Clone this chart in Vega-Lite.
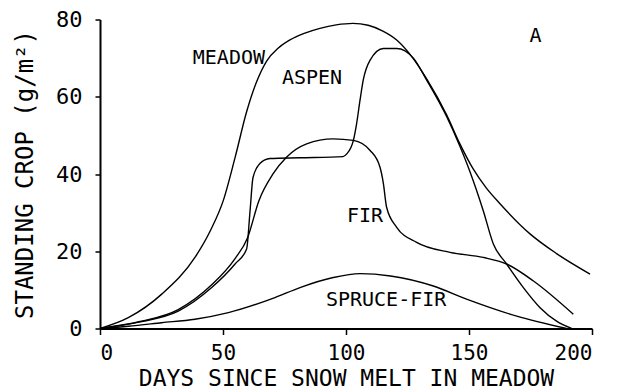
{
  "$schema": "https://vega.github.io/schema/vega-lite/v6.json",
  "width": 492,
  "height": 309,
  "autosize": "none",
  "padding": {"left": 100, "top": 19.5, "right": 34, "bottom": 63.5},
  "background": "white",
  "config": {
    "view": {"stroke": null},
    "font": "DejaVu Sans Mono",
    "axis": {
      "grid": false,
      "domainColor": "black",
      "domainWidth": 2,
      "tickColor": "black",
      "tickWidth": 1.5,
      "labelColor": "black",
      "titleColor": "black",
      "labelFont": "DejaVu Sans Mono",
      "titleFont": "DejaVu Sans Mono",
      "labelFontWeight": "normal",
      "titleFontWeight": "normal"
    }
  },
  "datasets": {
    "curves": [
      {"series": "MEADOW", "day": 0, "crop": 0},
      {"series": "MEADOW", "day": 11.5, "crop": 2.8},
      {"series": "MEADOW", "day": 25.1, "crop": 8.9},
      {"series": "MEADOW", "day": 38.6, "crop": 18.4},
      {"series": "MEADOW", "day": 45.0, "crop": 25.5},
      {"series": "MEADOW", "day": 50.1, "crop": 33.1},
      {"series": "MEADOW", "day": 55.0, "crop": 44.5},
      {"series": "MEADOW", "day": 59.6, "crop": 56.1},
      {"series": "MEADOW", "day": 63.5, "crop": 63.6},
      {"series": "MEADOW", "day": 67.8, "crop": 69.3},
      {"series": "MEADOW", "day": 72.5, "crop": 72.6},
      {"series": "MEADOW", "day": 77.2, "crop": 74.7},
      {"series": "MEADOW", "day": 83.0, "crop": 76.4},
      {"series": "MEADOW", "day": 89.4, "crop": 77.7},
      {"series": "MEADOW", "day": 96.0, "crop": 78.6},
      {"series": "MEADOW", "day": 102.8, "crop": 79.0},
      {"series": "MEADOW", "day": 109.0, "crop": 78.5},
      {"series": "MEADOW", "day": 115.0, "crop": 77.0},
      {"series": "MEADOW", "day": 120.6, "crop": 74.7},
      {"series": "MEADOW", "day": 126.5, "crop": 70.6},
      {"series": "MEADOW", "day": 132.8, "crop": 64.6},
      {"series": "MEADOW", "day": 140.9, "crop": 55.3},
      {"series": "MEADOW", "day": 146.3, "crop": 47.8},
      {"series": "MEADOW", "day": 151.7, "crop": 41.3},
      {"series": "MEADOW", "day": 157.0, "crop": 36.4},
      {"series": "MEADOW", "day": 162.6, "crop": 32.3},
      {"series": "MEADOW", "day": 174.8, "crop": 24.5},
      {"series": "MEADOW", "day": 185.6, "crop": 19.4},
      {"series": "MEADOW", "day": 199.2, "crop": 14.1},

      {"series": "ASPEN", "day": 0, "crop": 0},
      {"series": "ASPEN", "day": 16.3, "crop": 1.7},
      {"series": "ASPEN", "day": 31.8, "crop": 4.5},
      {"series": "ASPEN", "day": 45.4, "crop": 10.6},
      {"series": "ASPEN", "day": 54.9, "crop": 16.7},
      {"series": "ASPEN", "day": 59.6, "crop": 20.6},
      {"series": "ASPEN", "day": 61.0, "crop": 30.5},
      {"series": "ASPEN", "day": 62.2, "crop": 39.1},
      {"series": "ASPEN", "day": 65.0, "crop": 42.7},
      {"series": "ASPEN", "day": 69.1, "crop": 44.0},
      {"series": "ASPEN", "day": 81.3, "crop": 44.2},
      {"series": "ASPEN", "day": 98.8, "crop": 44.5},
      {"series": "ASPEN", "day": 100.3, "crop": 45.2},
      {"series": "ASPEN", "day": 103.0, "crop": 48.7},
      {"series": "ASPEN", "day": 104.3, "crop": 53.0},
      {"series": "ASPEN", "day": 105.7, "crop": 59.1},
      {"series": "ASPEN", "day": 107.0, "crop": 64.3},
      {"series": "ASPEN", "day": 109.8, "crop": 69.5},
      {"series": "ASPEN", "day": 115.2, "crop": 72.5},
      {"series": "ASPEN", "day": 120.6, "crop": 72.5},
      {"series": "ASPEN", "day": 127.4, "crop": 70.0},
      {"series": "ASPEN", "day": 132.8, "crop": 64.3},
      {"series": "ASPEN", "day": 140.9, "crop": 54.9},
      {"series": "ASPEN", "day": 146.3, "crop": 47.2},
      {"series": "ASPEN", "day": 150.4, "crop": 40.6},
      {"series": "ASPEN", "day": 155.8, "crop": 30.5},
      {"series": "ASPEN", "day": 159.9, "crop": 21.9},
      {"series": "ASPEN", "day": 165.3, "crop": 16.7},
      {"series": "ASPEN", "day": 172.1, "crop": 10.6},
      {"series": "ASPEN", "day": 178.9, "crop": 5.4},
      {"series": "ASPEN", "day": 185.6, "crop": 1.9},
      {"series": "ASPEN", "day": 191.7, "crop": 0},

      {"series": "FIR", "day": 0, "crop": 0},
      {"series": "FIR", "day": 16.3, "crop": 1.8},
      {"series": "FIR", "day": 31.8, "crop": 4.9},
      {"series": "FIR", "day": 45.4, "crop": 11.3},
      {"series": "FIR", "day": 54.9, "crop": 18.1},
      {"series": "FIR", "day": 60.0, "crop": 23.5},
      {"series": "FIR", "day": 64.6, "crop": 33.1},
      {"series": "FIR", "day": 70.4, "crop": 40.1},
      {"series": "FIR", "day": 75.9, "crop": 44.4},
      {"series": "FIR", "day": 84.0, "crop": 47.8},
      {"series": "FIR", "day": 94.8, "crop": 49.1},
      {"series": "FIR", "day": 103.0, "crop": 48.7},
      {"series": "FIR", "day": 109.8, "crop": 46.1},
      {"series": "FIR", "day": 113.8, "crop": 41.8},
      {"series": "FIR", "day": 115.2, "crop": 37.5},
      {"series": "FIR", "day": 116.5, "crop": 31.4},
      {"series": "FIR", "day": 120.6, "crop": 26.2},
      {"series": "FIR", "day": 128.7, "crop": 22.3},
      {"series": "FIR", "day": 142.3, "crop": 19.7},
      {"series": "FIR", "day": 155.8, "crop": 18.4},
      {"series": "FIR", "day": 165.3, "crop": 16.7},
      {"series": "FIR", "day": 176.2, "crop": 12.3},
      {"series": "FIR", "day": 192.4, "crop": 3.7},

      {"series": "SPRUCE-FIR", "day": 0, "crop": 0},
      {"series": "SPRUCE-FIR", "day": 11.5, "crop": 0.6},
      {"series": "SPRUCE-FIR", "day": 25.1, "crop": 1.5},
      {"series": "SPRUCE-FIR", "day": 38.6, "crop": 2.4},
      {"series": "SPRUCE-FIR", "day": 52.2, "crop": 4.1},
      {"series": "SPRUCE-FIR", "day": 71.1, "crop": 8.0},
      {"series": "SPRUCE-FIR", "day": 81.3, "crop": 10.6},
      {"series": "SPRUCE-FIR", "day": 94.8, "crop": 13.2},
      {"series": "SPRUCE-FIR", "day": 105.7, "crop": 14.2},
      {"series": "SPRUCE-FIR", "day": 118.1, "crop": 13.6},
      {"series": "SPRUCE-FIR", "day": 135.5, "crop": 11.0},
      {"series": "SPRUCE-FIR", "day": 149.0, "crop": 7.6},
      {"series": "SPRUCE-FIR", "day": 169.4, "crop": 3.2},
      {"series": "SPRUCE-FIR", "day": 189.7, "crop": 0}
    ],
    "labels": [
      {"text": "MEADOW", "day": 52.4, "crop": 70.0},
      {"text": "ASPEN", "day": 86.2, "crop": 64.8},
      {"text": "FIR", "day": 107.7, "crop": 29.2},
      {"text": "SPRUCE-FIR", "day": 116.3, "crop": 7.4},
      {"text": "A", "day": 177.0, "crop": 75.8}
    ]
  },
  "layer": [
    {
      "data": {"name": "curves"},
      "mark": {"type": "line", "interpolate": "monotone", "color": "black", "strokeWidth": 1.4, "clip": true},
      "encoding": {
        "x": {
          "field": "day",
          "type": "quantitative",
          "scale": {"domain": [0, 200], "nice": false},
          "axis": {
            "values": [0, 50, 100, 150, 200],
            "title": "DAYS SINCE SNOW MELT IN MEADOW",
            "labelFontSize": 21,
            "titleFontSize": 23,
            "tickSize": 6,
            "labelPadding": 8,
            "titlePadding": 4
          }
        },
        "y": {
          "field": "crop",
          "type": "quantitative",
          "scale": {"domain": [0, 80], "nice": false},
          "axis": {
            "values": [0, 20, 40, 60, 80],
            "title": "STANDING CROP (g/m²)",
            "labelFontSize": 22,
            "titleFontSize": 24,
            "tickSize": 5,
            "labelPadding": 13,
            "titlePadding": 18
          }
        },
        "detail": {"field": "series", "type": "nominal"}
      }
    },
    {
      "data": {"name": "labels"},
      "mark": {"type": "text", "font": "DejaVu Sans Mono", "fontSize": 20, "color": "black", "align": "center", "baseline": "middle"},
      "encoding": {
        "x": {"field": "day", "type": "quantitative"},
        "y": {"field": "crop", "type": "quantitative"},
        "text": {"field": "text", "type": "nominal"}
      }
    }
  ]
}
